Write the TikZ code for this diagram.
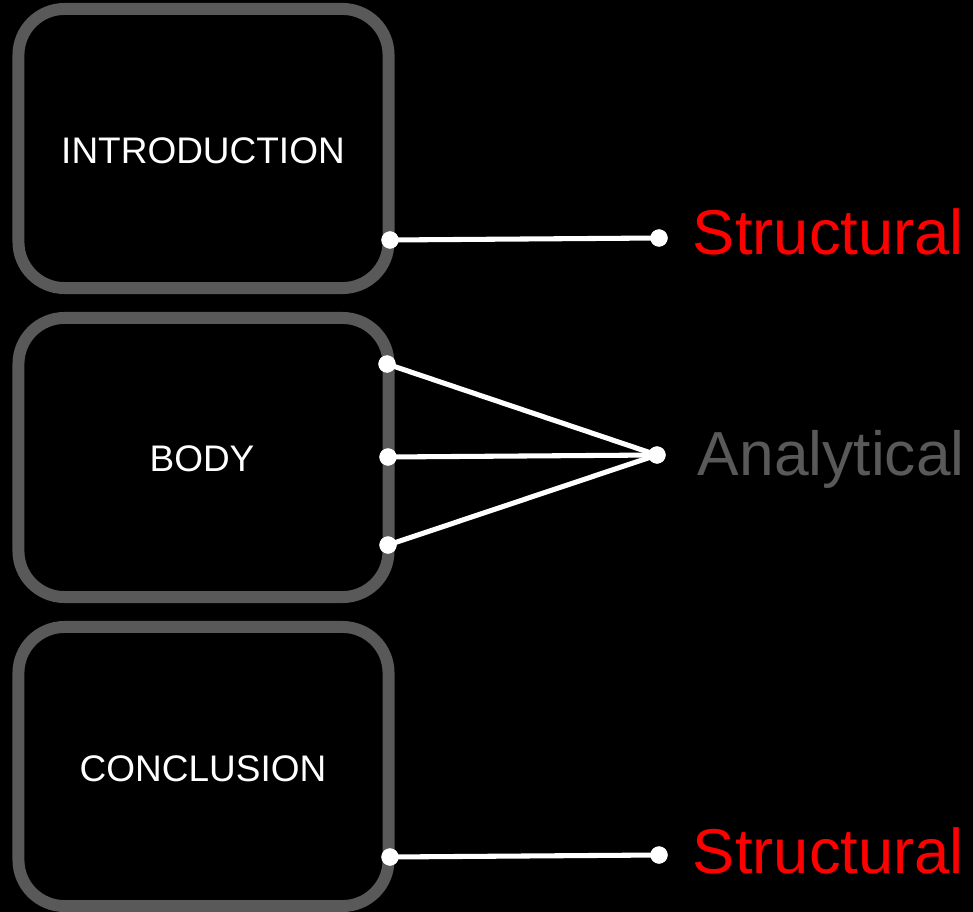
\documentclass[tikz,border=0pt]{standalone}
\usepackage{fontspec}
\setmainfont{Liberation Sans}
\definecolor{boxgray}{HTML}{595959}
\definecolor{labelred}{HTML}{FF0000}
\tikzset{
  part/.style={draw=boxgray, line width=8.5pt, rounded corners=1.15cm, inner sep=0pt,
    minimum width=9.25cm, minimum height=6.975cm},
  partname/.style={text=white, anchor=base, font=\fontsize{26.3}{30}\selectfont},
  dot/.style={circle, fill=white, inner sep=0pt, minimum size=0.43cm},
  link/.style={white, line width=3.6pt},
  kind/.style={anchor=base west, font=\fontsize{45}{52}\selectfont}
}
\begin{document}
\begin{tikzpicture}[x=0.025cm, y=-0.025cm]
				% Background
				\fill[black] (0,0) rectangle (973,912);
				\useasboundingbox (0,0) rectangle (973,912);
				
				% The three parts of the essay
				\node[part] (intro) at (203.5,148.5) {};
				\node[part] (body) at (203.5,457.5) {};
				\node[part] (concl) at (203.5,766.5) {};
				\node[partname] (introname) at (203,163.3) {INTRODUCTION};
				\node[partname] (bodyname) at (202,471.7) {BODY};
				\node[partname] (conclname) at (203,781) {CONCLUSION};
				
				% Kinds of paragraph
				\node[kind, text=labelred] (structA) at (688,255) {Structural};
				\node[kind, text=boxgray, font=\fontsize{44.3}{52}\selectfont] (analytic) at (693,475) {Analytical};
				\node[kind, text=labelred] (structB) at (688,873) {Structural};
				
				% End points of the links
				\node[dot] (introR) at (390,240) {};
				\node[dot] (structAL) at (659,238) {};
				\node[dot] (bodyA) at (387,364) {};
				\node[dot] (bodyB) at (388,457) {};
				\node[dot] (bodyC) at (388,545) {};
				\node[dot] (analyticL) at (657,455) {};
				\node[dot] (conclR) at (390,857) {};
				\node[dot] (structBL) at (659,855) {};
				
				% Links
				\draw[link] (introR.center) -- (structAL.center);
				\foreach \b in {bodyA, bodyB, bodyC}
					\draw[link] (\b.center) -- (analyticL.center);
				\draw[link] (conclR.center) -- (structBL.center);
				
				% Dots on top of the links
				\foreach \d in {introR, structAL, bodyA, bodyB, bodyC, analyticL, conclR, structBL}
					\fill[white] (\d.center) circle (0.215cm);
\end{tikzpicture}
\end{document}
